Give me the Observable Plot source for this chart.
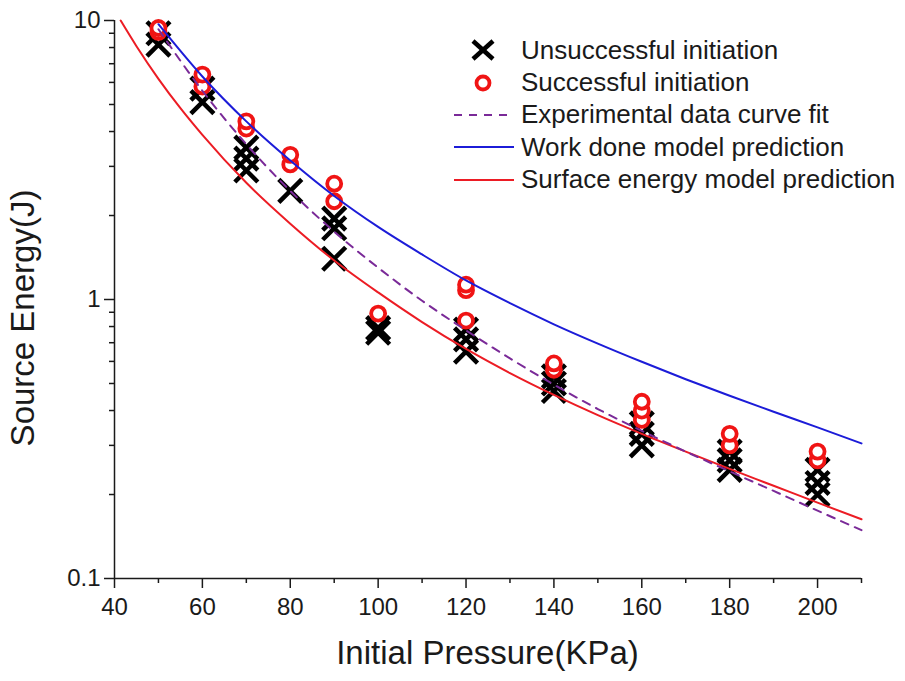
<!DOCTYPE html>
<html>
<head>
<meta charset="utf-8">
<script src="https://cdn.jsdelivr.net/npm/d3@7"></script>
<script src="https://cdn.jsdelivr.net/npm/@observablehq/plot@0.6"></script>
<style>
  html, body { margin: 0; padding: 0; background: #fff; }
  #wrap { position: relative; width: 905px; height: 681px; font-family: "Liberation Sans", Arial, sans-serif; color: #1a1a1a; }
  #wrap svg.plot { position: absolute; left: 0; top: 0; }
  .xtitle { position: absolute; left: 0; width: 975px; top: 636px; text-align: center; font-size: 33px; line-height: 1; white-space: nowrap; }
  .ytitle { position: absolute; left: 22px; top: 318px; font-size: 33px; line-height: 1; white-space: nowrap; transform: translate(-50%, -50%) rotate(-90deg); }
  #legend { position: absolute; left: 450px; top: 34px; }
  .row { display: flex; align-items: center; height: 32.4px; }
  .row svg { width: 66px; height: 32px; }
  .row span { font-size: 26px; margin-left: 5px; white-space: nowrap; }
</style>
</head>
<body>
<div id="wrap"></div>
<script>
// ---- data ----
const unsuccessfulP = [50, 50, 60, 60, 70, 70, 70, 80, 90, 90, 90, 100, 100, 120, 120, 120, 140, 140, 140, 160, 160, 160, 180, 180, 180, 200, 200, 200];
const unsuccessfulE = [8.2, 9.0, 5.1, 5.7, 2.9, 3.2, 3.5, 2.45, 1.4, 1.8, 1.95, 0.76, 0.79, 0.65, 0.72, 0.78, 0.47, 0.50, 0.53, 0.30, 0.33, 0.36, 0.245, 0.265, 0.285, 0.20, 0.22, 0.245];

const successfulP = [50, 50, 60, 60, 70, 70, 80, 80, 90, 90, 100, 120, 120, 120, 140, 140, 160, 160, 160, 180, 180, 200, 200];
const successfulE = [9.1, 9.4, 5.8, 6.4, 4.1, 4.35, 3.05, 3.3, 2.25, 2.6, 0.89, 0.84, 1.08, 1.13, 0.56, 0.59, 0.37, 0.40, 0.43, 0.30, 0.33, 0.265, 0.285];

const fitP = [50, 60, 70, 80, 90, 100, 110, 120, 130, 140, 150, 160, 170, 180, 190, 200, 210];
const fitE = [9.3, 5.6, 3.6, 2.45, 1.75, 1.3, 0.99, 0.775, 0.615, 0.495, 0.405, 0.338, 0.285, 0.242, 0.206, 0.175, 0.149];

const workP = [50, 60, 70, 80, 90, 100, 110, 120, 130, 140, 150, 160, 170, 180, 190, 200, 210];
const workE = [9.7, 6.3, 4.35, 3.15, 2.35, 1.82, 1.45, 1.17, 0.97, 0.815, 0.695, 0.598, 0.518, 0.452, 0.396, 0.348, 0.305];

const surfP = [41.4, 45, 50, 55, 60, 70, 80, 90, 100, 110, 120, 130, 140, 150, 160, 170, 180, 190, 200, 210];
const surfE = [10.0, 8.09, 6.18, 4.85, 3.89, 2.62, 1.87, 1.38, 1.06, 0.83, 0.665, 0.545, 0.455, 0.385, 0.33, 0.285, 0.247, 0.215, 0.187, 0.163];

const xMajorTicks = [40, 60, 80, 100, 120, 140, 160, 180, 200];
const xMinorTicks = [50, 70, 90, 110, 130, 150, 170, 190, 210];
const yMajorTicks = [0.1, 1, 10];
const yMinorTicks = [0.2, 0.3, 0.4, 0.5, 0.6, 0.7, 0.8, 0.9, 2, 3, 4, 5, 6, 7, 8, 9];

const legendLabels = ["Unsuccessful initiation", "Successful initiation", "Experimental data curve fit", "Work done model prediction", "Surface energy model prediction"];
const colors = { unsucc: "#000000", succ: "#f01414", fit: "#7a2a98", work: "#1c1cd8", surf: "#ec1c24", axis: "#1a1a1a" };

// ---- tables ----
const zip = (P, E) => P.map((p, i) => ({ p, e: E[i] }));
const unsucc = zip(unsuccessfulP, unsuccessfulE);
const succ = zip(successfulP, successfulE);
const fit = zip(fitP, fitE);
const work = zip(workP, workE);
const surf = zip(surfP, surfE);

const chart = Plot.plot({
  width: 905,
  height: 681,
  marginLeft: 114,
  marginRight: 44,
  marginTop: 20,
  marginBottom: 103,
  style: { fontFamily: "'Liberation Sans', Arial, sans-serif", fontSize: "24px", color: colors.axis, background: "transparent" },
  x: { domain: [40, 210] },
  y: { type: "log", domain: [0.1, 10] },
  marks: [
    Plot.axisX(xMajorTicks, { tickSize: 10, tickPadding: 9, strokeWidth: 1.5, label: null, tickFormat: d => String(d), fontSize: 24 }),
    Plot.axisX(xMinorTicks, { tickSize: 5, strokeWidth: 1.5, label: null, tickFormat: () => "" }),
    Plot.axisY(yMajorTicks, { tickSize: 10, tickPadding: 4, strokeWidth: 1.5, label: null, tickFormat: d => String(d), fontSize: 24 }),
    Plot.axisY(yMinorTicks, { tickSize: 5, strokeWidth: 1.5, label: null, tickFormat: () => "" }),
    Plot.ruleX([40], { stroke: colors.axis, strokeWidth: 1.5 }),
    Plot.ruleY([0.1], { stroke: colors.axis, strokeWidth: 1.5 }),
    Plot.dot(unsucc, { x: "p", y: "e", symbol: "times", r: 10.5, stroke: colors.unsucc, strokeWidth: 4.5 }),
    Plot.dot(succ, { x: "p", y: "e", symbol: "circle", r: 7, stroke: colors.succ, strokeWidth: 3.8, fill: "white" }),
    Plot.line(surf, { x: "p", y: "e", stroke: colors.surf, strokeWidth: 2, curve: "monotone-x" }),
    Plot.line(fit, { x: "p", y: "e", stroke: colors.fit, strokeWidth: 2, strokeDasharray: "8,7", curve: "monotone-x" }),
    Plot.line(work, { x: "p", y: "e", stroke: colors.work, strokeWidth: 2, curve: "monotone-x" })
  ]
});

const wrap = document.getElementById("wrap");
chart.classList.add("plot");
wrap.appendChild(chart);

const xt = document.createElement("div");
xt.className = "xtitle";
xt.textContent = "Initial Pressure(KPa)";
wrap.appendChild(xt);

const yt = document.createElement("div");
yt.className = "ytitle";
yt.textContent = "Source Energy(J)";
wrap.appendChild(yt);

// ---- legend ----
const legend = document.createElement("div");
legend.id = "legend";
const swatches = [
  `<line x1="23" y1="7" x2="43" y2="25" stroke="${colors.unsucc}" stroke-width="4.5"/><line x1="43" y1="7" x2="23" y2="25" stroke="${colors.unsucc}" stroke-width="4.5"/>`,
  `<circle cx="33" cy="16" r="6.5" fill="white" stroke="${colors.succ}" stroke-width="3.8"/>`,
  `<line x1="4" y1="16" x2="64" y2="16" stroke="${colors.fit}" stroke-width="2" stroke-dasharray="8,7"/>`,
  `<line x1="4" y1="16" x2="64" y2="16" stroke="${colors.work}" stroke-width="2"/>`,
  `<line x1="4" y1="16" x2="64" y2="16" stroke="${colors.surf}" stroke-width="2"/>`
];
legendLabels.forEach((label, i) => {
  const row = document.createElement("div");
  row.className = "row";
  row.innerHTML = `<svg viewBox="0 0 66 32">${swatches[i]}</svg><span></span>`;
  row.querySelector("span").textContent = label;
  legend.appendChild(row);
});
wrap.appendChild(legend);
</script>
</body>
</html>
